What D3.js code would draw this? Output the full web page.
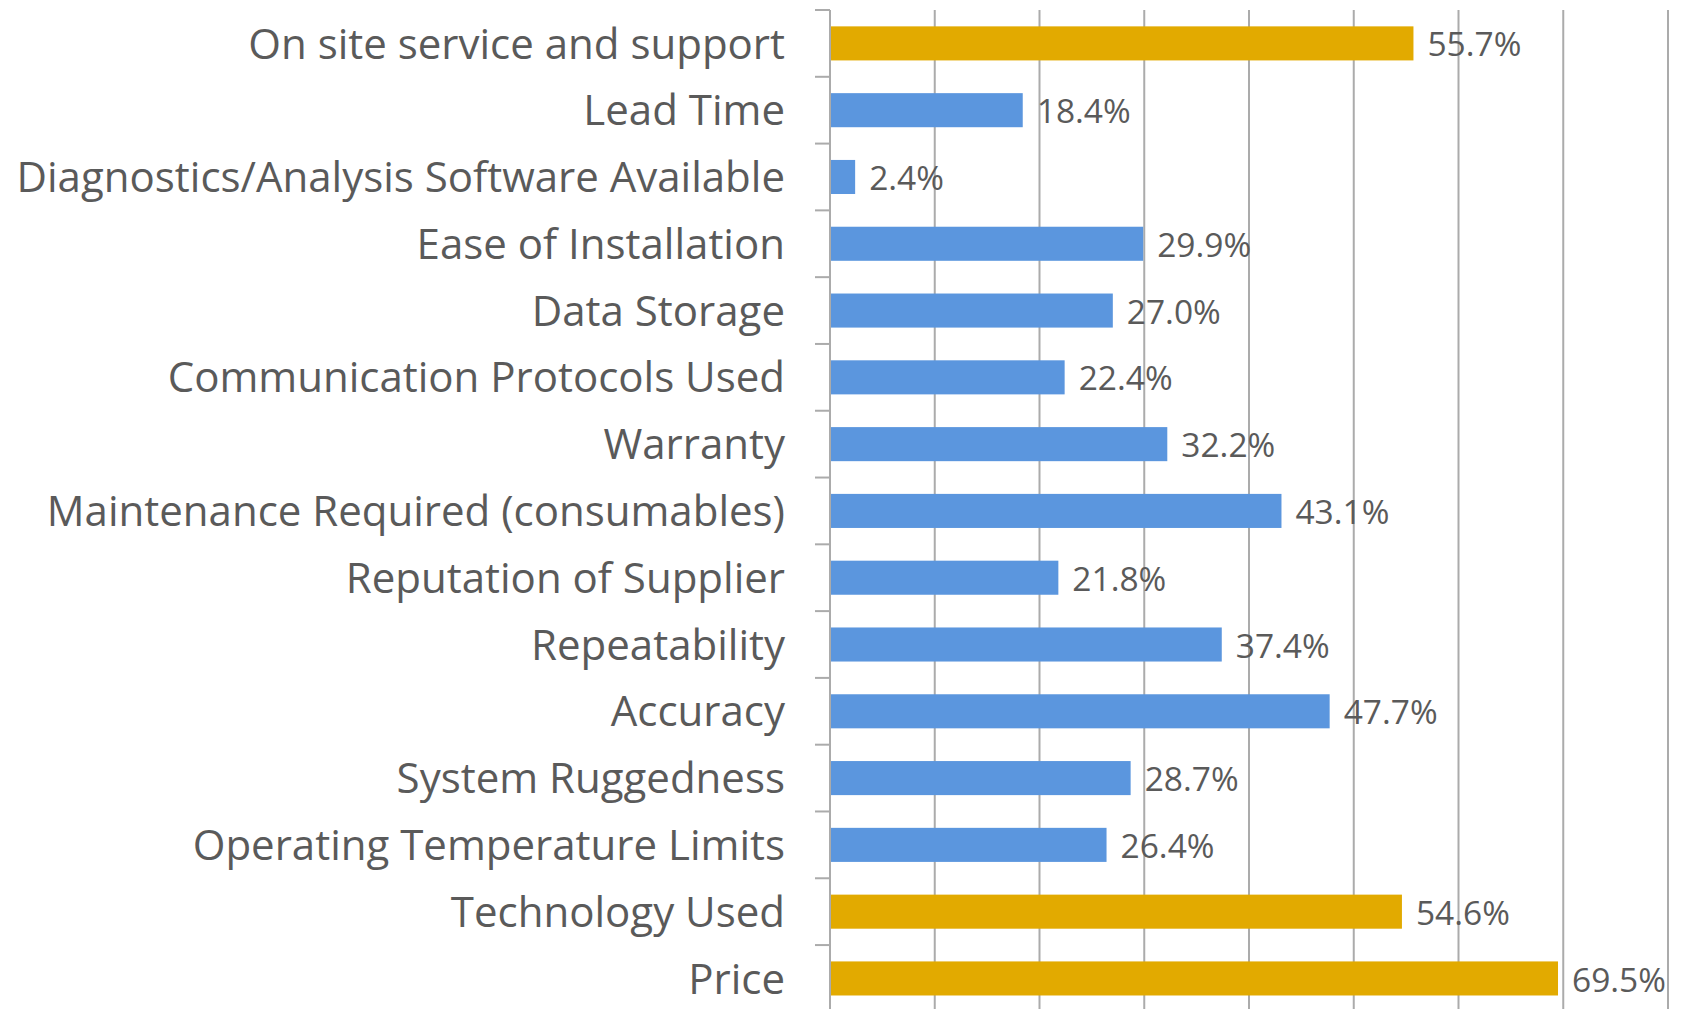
<!DOCTYPE html>
<html>
<head>
<meta charset="utf-8">
<script src="https://cdn.jsdelivr.net/npm/d3@7"></script>
<style>
  body { margin: 0; background: #fff; }
  svg { display: block; }
  .cat { font-family: "Open Sans", sans-serif; fill: #5a5a5a; }
  .val { font-family: "Open Sans", sans-serif; fill: #5a5a5a; }
</style>
</head>
<body>
<div id="chart"></div>
<script>
// DATA (top to bottom)

const categories = [
  "On site service and support",
  "Lead Time",
  "Diagnostics/Analysis Software Available",
  "Ease of Installation",
  "Data Storage",
  "Communication Protocols Used",
  "Warranty",
  "Maintenance Required (consumables)",
  "Reputation of Supplier",
  "Repeatability",
  "Accuracy",
  "System Ruggedness",
  "Operating Temperature Limits",
  "Technology Used",
  "Price"
]
const values = [55.7, 18.4, 2.4, 29.9, 27.0, 22.4, 32.2, 43.1, 21.8, 37.4, 47.7, 28.7, 26.4, 54.6, 69.5]
const highlighted = ["On site service and support", "Technology Used", "Price"]
const xTicks = [0, 10, 20, 30, 40, 50, 60, 70, 80]

const data = categories.map((c, i) => ({ name: c, value: values[i] }))

// SIZES

const width = 1681
const height = 1009
const margin = { left: 830, right: 13, top: 10 }
const step = 66.79
const plotH = step * categories.length

const svg = d3.select("#chart").append("svg").attr("width", width).attr("height", height)

// SCALES

const x = d3.scaleLinear().domain([0, 80]).range([margin.left, width - margin.right])
const y = d3.scaleBand().domain(categories)
  .range([margin.top, margin.top + plotH])
  .paddingInner(0.49).paddingOuter(0.245)

// GRID

svg.append("g").selectAll("line").data(xTicks.slice(1)).join("line")
  .attr("x1", d => x(d)).attr("x2", d => x(d))
  .attr("y1", margin.top).attr("y2", margin.top + plotH)
  .attr("stroke", "#ababab").attr("stroke-width", 2)

// BARS

svg.append("g").selectAll("rect").data(data).join("rect")
  .attr("x", x(0))
  .attr("y", d => y(d.name))
  .attr("width", d => x(d.value) - x(0))
  .attr("height", y.bandwidth())
  .attr("fill", d => highlighted.includes(d.name) ? "#e2aa00" : "#5b96de")

// Y AXIS (ticks between categories, like Excel)

const axisG = svg.append("g")
axisG.append("line")
  .attr("x1", x(0)).attr("x2", x(0))
  .attr("y1", margin.top).attr("y2", margin.top + plotH)
  .attr("stroke", "#ababab").attr("stroke-width", 2)
axisG.selectAll(".tk").data(d3.range(categories.length + 1)).join("line")
  .attr("class", "tk")
  .attr("x1", x(0) - 15).attr("x2", x(0))
  .attr("y1", i => margin.top + i * y.step()).attr("y2", i => margin.top + i * y.step())
  .attr("stroke", "#ababab").attr("stroke-width", 2)

axisG.selectAll("text").data(categories).join("text")
  .attr("class", "cat")
  .attr("x", x(0) - 45)
  .attr("y", d => y(d) + y.bandwidth() / 2)
  .attr("dy", "0.36em")
  .attr("text-anchor", "end")
  .attr("font-size", 42)
  .text(d => d)

// VALUE LABELS

svg.append("g").selectAll("text").data(data).join("text")
  .attr("class", "val")
  .attr("x", d => x(d.value) + 14)
  .attr("y", d => y(d.name) + y.bandwidth() / 2 + 1)
  .attr("dy", "0.36em")
  .attr("font-size", 33.5)
  .text(d => d.value.toFixed(1) + "%")
</script>
</body>
</html>
